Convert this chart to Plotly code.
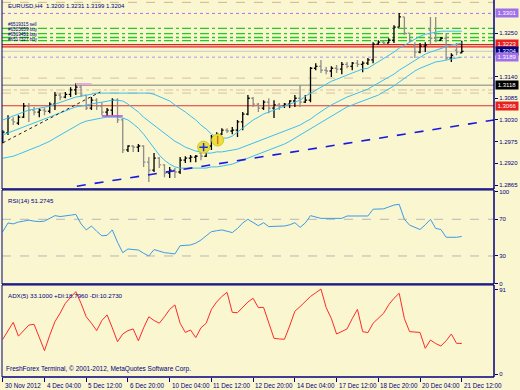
import plotly.graph_objects as go

# ---------------- data ----------------
bar_index = list(range(89))
opens = [1.2974, 1.2997, 1.3030, 1.3022, 1.3037, 1.3065, 1.3055, 1.3050, 1.3055, 1.3052,
         1.3070, 1.3093, 1.3088, 1.3095, 1.3106, 1.3113, 1.3093, 1.3060, 1.3080, 1.3065,
         1.3050, 1.3055, 1.3080, 1.3030, 1.2954, 1.2964, 1.2961, 1.2964, 1.2923, 1.2903,
         1.2933, 1.2916, 1.2895, 1.2903, 1.2898, 1.2928, 1.2933, 1.2936, 1.2946, 1.2938,
         1.2964, 1.2987, 1.2994, 1.3004, 1.3002, 1.3004, 1.3025, 1.3045, 1.3085, 1.3070,
         1.3060, 1.3075, 1.3060, 1.3068, 1.3065, 1.3070, 1.3078, 1.3085, 1.3075, 1.3080,
         1.3161, 1.3166, 1.3156, 1.3154, 1.3161, 1.3159, 1.3171, 1.3166, 1.3174, 1.3171,
         1.3174, 1.3182, 1.3222, 1.3227, 1.3225, 1.3232, 1.3265, 1.3291, 1.3250, 1.3220,
         1.3202, 1.3217, 1.3258, 1.3237, 1.3232, 1.3237, 1.3187, 1.3207, 1.3200]
highs = [1.3004, 1.3042, 1.3037, 1.3042, 1.3073, 1.3073, 1.3063, 1.3060, 1.3060, 1.3075,
         1.3101, 1.3098, 1.3101, 1.3113, 1.3123, 1.3123, 1.3093, 1.3088, 1.3085, 1.3075,
         1.3060, 1.3085, 1.3085, 1.3035, 1.2966, 1.2966, 1.2969, 1.2966, 1.2936, 1.2946,
         1.2936, 1.2918, 1.2911, 1.2908, 1.2936, 1.2938, 1.2941, 1.2941, 1.2954, 1.2966,
         1.2992, 1.2999, 1.3009, 1.3009, 1.3012, 1.3030, 1.3050, 1.3093, 1.3088, 1.3073,
         1.3080, 1.3085, 1.3080, 1.3073, 1.3073, 1.3080, 1.3093, 1.3118, 1.3093, 1.3164,
         1.3174, 1.3182, 1.3164, 1.3166, 1.3169, 1.3177, 1.3177, 1.3177, 1.3182, 1.3179,
         1.3187, 1.3227, 1.3232, 1.3232, 1.3237, 1.3270, 1.3301, 1.3291, 1.3250, 1.3227,
         1.3225, 1.3227, 1.3291, 1.3291, 1.3240, 1.3250, 1.3199, 1.3225, 1.3231]
lows = [1.2971, 1.2992, 1.3017, 1.3017, 1.3035, 1.3025, 1.3042, 1.3037, 1.3042, 1.3047,
        1.3055, 1.3080, 1.3085, 1.3088, 1.3093, 1.3088, 1.3055, 1.3055, 1.3055, 1.3042,
        1.3040, 1.3042, 1.3022, 1.2946, 1.2949, 1.2949, 1.2949, 1.2911, 1.2873, 1.2898,
        1.2908, 1.2885, 1.2883, 1.2883, 1.2893, 1.2921, 1.2923, 1.2923, 1.2928, 1.2936,
        1.2954, 1.2974, 1.2992, 1.2997, 1.2994, 1.2987, 1.3004, 1.3042, 1.3063, 1.3050,
        1.3055, 1.3047, 1.3035, 1.3055, 1.3060, 1.3060, 1.3063, 1.3063, 1.3073, 1.3075,
        1.3156, 1.3149, 1.3146, 1.3139, 1.3149, 1.3146, 1.3161, 1.3156, 1.3164, 1.3151,
        1.3169, 1.3174, 1.3220, 1.3222, 1.3225, 1.3225, 1.3265, 1.3245, 1.3227, 1.3187,
        1.3199, 1.3202, 1.3222, 1.3227, 1.3232, 1.3182, 1.3177, 1.3194, 1.3199]
closes = [1.2999, 1.3035, 1.3025, 1.3037, 1.3065, 1.3055, 1.3050, 1.3055, 1.3052, 1.3070,
          1.3093, 1.3088, 1.3095, 1.3106, 1.3113, 1.3093, 1.3060, 1.3080, 1.3065, 1.3050,
          1.3055, 1.3080, 1.3030, 1.2954, 1.2964, 1.2961, 1.2964, 1.2923, 1.2903, 1.2933,
          1.2916, 1.2895, 1.2903, 1.2898, 1.2928, 1.2933, 1.2936, 1.2938, 1.2938, 1.2964,
          1.2987, 1.2994, 1.3004, 1.3002, 1.3004, 1.3025, 1.3045, 1.3085, 1.3070, 1.3060,
          1.3075, 1.3060, 1.3068, 1.3065, 1.3070, 1.3078, 1.3085, 1.3075, 1.3080, 1.3161,
          1.3166, 1.3156, 1.3154, 1.3161, 1.3159, 1.3171, 1.3166, 1.3174, 1.3171, 1.3174,
          1.3182, 1.3222, 1.3227, 1.3225, 1.3232, 1.3265, 1.3291, 1.3250, 1.3232, 1.3202,
          1.3217, 1.3220, 1.3237, 1.3232, 1.3237, 1.3187, 1.3194, 1.3202, 1.3204]

bb_upper = [1.3030, 1.3035, 1.3040, 1.3045, 1.3050, 1.3055, 1.3057, 1.3060, 1.3063, 1.3065,
            1.3070, 1.3075, 1.3080, 1.3085, 1.3088, 1.3090, 1.3093, 1.3095, 1.3098, 1.3098,
            1.3098, 1.3098, 1.3098, 1.3098, 1.3098, 1.3098, 1.3098, 1.3098, 1.3098, 1.3095,
            1.3090, 1.3085, 1.3078, 1.3068, 1.3060, 1.3050, 1.3040, 1.3030, 1.3017, 1.3007,
            1.2994, 1.2987, 1.2984, 1.2984, 1.2989, 1.2999, 1.3009, 1.3020, 1.3030, 1.3037,
            1.3045, 1.3050, 1.3055, 1.3060, 1.3065, 1.3070, 1.3075, 1.3080, 1.3090, 1.3098,
            1.3106, 1.3113, 1.3121, 1.3128, 1.3133, 1.3139, 1.3144, 1.3149, 1.3154, 1.3159,
            1.3161, 1.3169, 1.3177, 1.3187, 1.3194, 1.3202, 1.3212, 1.3220, 1.3227, 1.3235,
            1.3242, 1.3247, 1.3250, 1.3253, 1.3255, 1.3255, 1.3255, 1.3255, 1.3255]
bb_middle = [1.2992, 1.2997, 1.3002, 1.3007, 1.3012, 1.3017, 1.3022, 1.3027, 1.3032, 1.3037,
             1.3042, 1.3047, 1.3052, 1.3057, 1.3063, 1.3065, 1.3068, 1.3070, 1.3073, 1.3075,
             1.3078, 1.3080, 1.3080, 1.3078, 1.3070, 1.3060, 1.3050, 1.3037, 1.3027, 1.3017,
             1.3007, 1.2997, 1.2987, 1.2976, 1.2969, 1.2961, 1.2956, 1.2951, 1.2949, 1.2946,
             1.2946, 1.2949, 1.2949, 1.2951, 1.2954, 1.2956, 1.2961, 1.2966, 1.2971, 1.2976,
             1.2981, 1.2987, 1.2992, 1.2997, 1.3002, 1.3007, 1.3012, 1.3017, 1.3025, 1.3032,
             1.3042, 1.3052, 1.3060, 1.3068, 1.3075, 1.3083, 1.3088, 1.3093, 1.3098, 1.3103,
             1.3108, 1.3116, 1.3123, 1.3131, 1.3139, 1.3146, 1.3156, 1.3164, 1.3174, 1.3182,
             1.3189, 1.3197, 1.3202, 1.3207, 1.3212, 1.3217, 1.3220, 1.3222, 1.3225]
bb_lower = [1.2933, 1.2936, 1.2938, 1.2943, 1.2949, 1.2954, 1.2959, 1.2964, 1.2969, 1.2976,
            1.2984, 1.2992, 1.2999, 1.3007, 1.3014, 1.3022, 1.3027, 1.3030, 1.3032, 1.3035,
            1.3037, 1.3037, 1.3037, 1.3035, 1.3030, 1.3020, 1.3009, 1.2994, 1.2976, 1.2959,
            1.2941, 1.2928, 1.2918, 1.2911, 1.2908, 1.2908, 1.2908, 1.2908, 1.2908, 1.2908,
            1.2911, 1.2911, 1.2913, 1.2916, 1.2918, 1.2923, 1.2928, 1.2933, 1.2938, 1.2943,
            1.2949, 1.2954, 1.2959, 1.2964, 1.2969, 1.2976, 1.2984, 1.2992, 1.2999, 1.3009,
            1.3017, 1.3025, 1.3032, 1.3040, 1.3047, 1.3055, 1.3063, 1.3068, 1.3073, 1.3078,
            1.3083, 1.3088, 1.3093, 1.3101, 1.3108, 1.3116, 1.3126, 1.3136, 1.3146, 1.3154,
            1.3161, 1.3166, 1.3171, 1.3177, 1.3179, 1.3182, 1.3184, 1.3187, 1.3189]

rsi = [56.5, 66, 65, 67, 68, 69, 68, 67.5, 68, 71,
       74, 73, 73.5, 74.5, 75.4, 65, 58.4, 62.7, 57, 52,
       52.5, 58.4, 45, 33.6, 37.6, 37, 36.5, 33, 30, 37,
       35, 33.6, 33, 32.2, 41.2, 41.5, 42, 44, 47.4, 52,
       56.5, 57.5, 58.4, 57, 55.5, 60, 66, 70, 66, 63,
       66.3, 62, 62.3, 62.5, 62.7, 64, 66.3, 61.2, 66, 74,
       72.5, 71, 71, 71, 71, 71, 73.6, 73.6, 73.6, 73.6,
       73.6, 81, 81.2, 81.4, 83.5, 85.5, 86.4, 70, 63.6, 61,
       58.9, 64, 70, 60, 58.9, 50.4, 50.4, 50.4, 51.27]
adx = [37.6, 47, 56, 41, 47, 53, 53.8, 40, 25.3, 42,
       56.7, 66, 76.6, 83, 89.2, 76.6, 62, 55, 47, 58,
       64, 50, 35, 43.3, 47, 48.8, 36, 50, 62, 58,
       55, 62, 70, 74.8, 55, 45, 47.7, 39.4, 50, 55,
       70, 78, 84, 88.5, 66.8, 66.4, 72, 78, 82, 71.9,
       72.2, 55, 38.6, 38, 37.6, 52, 68, 73, 78.4, 84,
       88, 92, 72, 60, 43.3, 46, 48.8, 60, 70, 45.9,
       44.8, 55, 60.3, 65.7, 75, 82, 87.4, 60, 45.9, 45.5,
       45, 27.8, 36.8, 33, 30.3, 36, 43.3, 33.2, 33.1]

date_tick_index = [0, 8, 16, 24, 32, 40, 48, 56, 64, 72, 80, 88]
date_tick_labels = ["30 Nov 2012", "4 Dec 04:00", "5 Dec 12:00", "6 Dec 20:00", "10 Dec 04:00",
                    "11 Dec 12:00", "12 Dec 20:00", "14 Dec 04:00", "17 Dec 12:00",
                    "18 Dec 20:00", "20 Dec 04:00", "21 Dec 12:00"]
price_ticks = [1.3250, 1.3140, 1.3085, 1.3030, 1.2975, 1.2920, 1.2865]
rsi_ticks = [100, 70, 30, 0]
adx_ticks = [91, 0]

order_levels = [1.3262, 1.3249, 1.3239, 1.3231]
order_label_levels = [1.3272, 1.3259, 1.3246, 1.3234]
order_labels = ["#6519315 sell", "#6525659 buy", "#6519451 buy", "#6517327 buy"]
red_levels = [1.3221, 1.3215, 1.3066]
price_boxes = [("1.3301", 1.3301, "#A070E8"), ("1.3223", 1.3223, "#E82020"),
               ("1.3204", 1.3204, "#000080"), ("1.3189", 1.3189, "#A070E8"),
               ("1.3118", 1.3118, "#000000"), ("1.3066", 1.3066, "#E82020")]
trend_blue_x = [14.2, 94.2]
trend_blue_y = [1.2862, 1.3030]
trend_black_x = [0, 18.7]
trend_black_y = [1.2972, 1.3101]
signal_x = [38.5, 41.2]
signal_y = [1.2961, 1.2979]

# ---------------- figure ----------------
NAVY = "#000080"
BB = "#3CBFF0"
FONT = "Liberation Sans"

fig = go.Figure()

fig.add_trace(go.Scatter(x=bar_index, y=bb_upper, mode="lines", line=dict(color=BB, width=1), xaxis="x", yaxis="y"))
fig.add_trace(go.Scatter(x=bar_index, y=bb_middle, mode="lines", line=dict(color=BB, width=1), xaxis="x", yaxis="y"))
fig.add_trace(go.Scatter(x=bar_index, y=bb_lower, mode="lines", line=dict(color=BB, width=1), xaxis="x", yaxis="y"))
fig.add_trace(go.Scatter(x=trend_blue_x, y=trend_blue_y, mode="lines",
                         line=dict(color="#1818E0", width=1.6, dash="dash"), xaxis="x", yaxis="y"))
fig.add_trace(go.Scatter(x=trend_black_x, y=trend_black_y, mode="lines",
                         line=dict(color="#202020", width=1, dash="dot"), xaxis="x", yaxis="y"))

fig.add_trace(go.Ohlc(x=bar_index, open=opens, high=highs, low=lows, close=closes,
                      increasing=dict(line=dict(color="#000000", width=1.3)),
                      decreasing=dict(line=dict(color="#8C8C8C", width=1.3)),
                      tickwidth=0.35, xaxis="x", yaxis="y"))

fig.add_trace(go.Scatter(x=signal_x, y=signal_y, mode="markers",
                         marker=dict(size=12, color="#E8E040", line=dict(color="#D8C820", width=1)),
                         xaxis="x", yaxis="y"))
fig.add_trace(go.Scatter(x=signal_x, y=signal_y, mode="markers",
                         marker=dict(size=6, symbol=["cross-thin", "line-ns"],
                                     line=dict(color=["#2030E0", "#E07020"], width=1.5)),
                         xaxis="x", yaxis="y"))

fig.add_trace(go.Scatter(x=bar_index, y=rsi, mode="lines", line=dict(color="#3A9BEA", width=1),
                         xaxis="x", yaxis="y2"))
fig.add_trace(go.Scatter(x=bar_index, y=adx, mode="lines", line=dict(color="#FF2A2A", width=1),
                         xaxis="x", yaxis="y3"))

shapes = []
def hline(level, color, dash, width=1, yref="y"):
    shapes.append(dict(type="line", xref="paper", x0=0, x1=1, yref=yref, y0=level, y1=level,
                       line=dict(color=color, width=width, dash=dash), layer="below"))

hline(1.3328, "#D2B48C", "dash")
hline(1.3300, "#B070F0", "dot")
for lv in order_levels:
    hline(lv, "#22CC22", "dashdot", 1.3)
hline(red_levels[0], "#E02020", "solid", 1.3)
hline(red_levels[1], "#E02020", "solid", 1.3)
hline(1.3204, "#C8C8C8", "solid")
hline(1.3189, "#C8B4E8", "dot", 1.5)
hline(1.3136, "#D8C0A0", "dash")
hline(1.3118, "#A8A898", "solid", 1.5)
hline(1.3106, "#D8C0A0", "dashdot")
hline(1.3098, "#D8C0A0", "dash")
hline(red_levels[2], "#E03030", "solid", 1.2)
hline(70, "#B8B8B8", "dash", 1, "y2")
hline(30, "#B8B8B8", "dash", 1, "y2")

# short level marks
shapes.append(dict(type="line", xref="x", yref="y", x0=14, x1=17, y0=1.3121, y1=1.3121,
                   line=dict(color="#E8A8D8", width=2)))
shapes.append(dict(type="line", xref="x", yref="y", x0=19, x1=23, y0=1.3040, y1=1.3040,
                   line=dict(color="#C040D0", width=1.5)))

# panel borders
D_MAIN = [0.4987, 1.0]
D_RSI = [0.2467, 0.4960]
D_ADX = [0.0, 0.2440]
for d in (D_MAIN, D_RSI, D_ADX):
    shapes.append(dict(type="line", xref="paper", yref="paper", x0=0, x1=0, y0=d[0], y1=d[1],
                       line=dict(color=NAVY, width=1)))
    shapes.append(dict(type="line", xref="paper", yref="paper", x0=1, x1=1, y0=d[0], y1=d[1],
                       line=dict(color=NAVY, width=1.5)))
    shapes.append(dict(type="line", xref="paper", yref="paper", x0=0, x1=1, y0=d[0], y1=d[0],
                       line=dict(color=NAVY, width=1.5)))
shapes.append(dict(type="line", xref="paper", yref="paper", x0=0, x1=1, y0=D_RSI[1], y1=D_RSI[1],
                   line=dict(color=NAVY, width=1)))
shapes.append(dict(type="line", xref="paper", yref="paper", x0=0, x1=1, y0=D_ADX[1], y1=D_ADX[1],
                   line=dict(color=NAVY, width=1)))

ann = []
small = dict(family=FONT, size=6.2, color=NAVY)
ann.append(dict(text="EURUSD,H4  1.3200 1.3231 1.3199 1.3204", xref="paper", yref="paper",
                x=0.008, y=0.985, xanchor="left", yanchor="middle", showarrow=False,
                font=dict(family=FONT, size=6, color=NAVY)))
for lv, lab in zip(order_label_levels, order_labels):
    ann.append(dict(text=lab, xref="paper", yref="y", x=0.008, y=lv,
                    xanchor="left", yanchor="middle", showarrow=False,
                    font=dict(family=FONT, size=4.6, color=NAVY)))
for txt, lv, col in price_boxes:
    ann.append(dict(text=txt, xref="paper", yref="y", x=1, xshift=1, y=lv, xanchor="left",
                    yanchor="middle", showarrow=False, bgcolor=col, width=22, height=8,
                    borderpad=0, font=dict(family=FONT, size=6, color="white")))
ann.append(dict(text="RSI(14) 51.2745", xref="paper", yref="paper", x=0.008, y=D_RSI[1] - 0.012,
                xanchor="left", yanchor="top", showarrow=False, font=small))
ann.append(dict(text="ADX(5) 33.1000 +DI:18.7960 -DI:10.2730", xref="paper", yref="paper",
                x=0.008, y=D_ADX[1] - 0.012, xanchor="left", yanchor="top", showarrow=False, font=small))
ann.append(dict(text="FreshForex Terminal, © 2001-2012, MetaQuotes Software Corp.", xref="paper",
                yref="paper", x=0.004, y=0.006, xanchor="left", yanchor="bottom", showarrow=False,
                font=dict(family=FONT, size=6.5, color=NAVY)))
for xi, lab in zip(date_tick_index, date_tick_labels):
    ann.append(dict(text=lab, xref="x", yref="paper", x=xi, y=0, yshift=-3, xanchor="left",
                    yanchor="top", showarrow=False, font=dict(family=FONT, size=6.3, color=NAVY)))

fig.update_layout(
    width=520, height=390,
    margin=dict(l=2, r=26, t=0, b=13),
    paper_bgcolor="#F9F6D0", plot_bgcolor="#F9F6D0",
    showlegend=False,
    shapes=shapes, annotations=ann,
    xaxis=dict(range=[-0.15, 94.18], anchor="y3", showgrid=False, zeroline=False,
               showticklabels=False, ticks="outside", ticklen=4, tickcolor=NAVY,
               tickvals=date_tick_index, rangeslider=dict(visible=False), fixedrange=True),
    yaxis=dict(domain=D_MAIN, range=[1.2855, 1.3334], side="right", anchor="x", showgrid=False,
               zeroline=False, tickvals=price_ticks, ticktext=[f"{v:.4f}" for v in price_ticks],
               ticks="outside", ticklen=3, tickcolor=NAVY, tickfont=dict(family=FONT, size=6, color=NAVY)),
    yaxis2=dict(domain=D_RSI, range=[-0.56, 101.95], side="right", anchor="x", showgrid=False,
                zeroline=False, tickvals=rsi_ticks, ticks="outside", ticklen=3, tickcolor=NAVY,
                tickfont=dict(family=FONT, size=6, color=NAVY)),
    yaxis3=dict(domain=D_ADX, range=[-3.25, 96.4], side="right", anchor="x", showgrid=False,
                zeroline=False, tickvals=adx_ticks, ticks="outside", ticklen=3, tickcolor=NAVY,
                tickfont=dict(family=FONT, size=6, color=NAVY)),
)

fig.write_html("out.html", config={"displayModeBar": False},
               post_script="document.body.style.margin='0';document.body.style.overflow='hidden';")
